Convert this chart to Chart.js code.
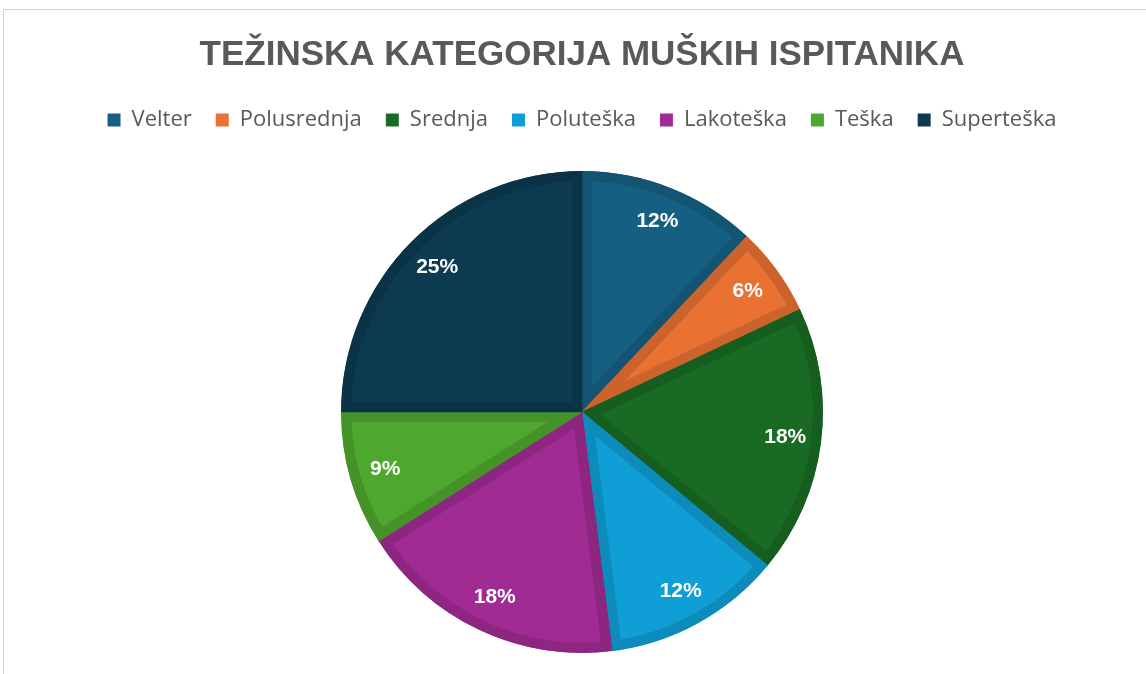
<!DOCTYPE html>
<html>
<head>
<meta charset="utf-8">
<script src="https://cdn.jsdelivr.net/npm/chart.js@4.4.1/dist/chart.umd.min.js"></script>
<style>
  html, body { margin: 0; padding: 0; background: #fff; overflow: hidden; }
  #wrap {
    position: absolute; left: 3px; top: 9px;
    width: 1156px; height: 685px;
    border-top: 1px solid #d4d4d4; border-left: 1px solid #d4d4d4;
  }
</style>
</head>
<body>
<div id="wrap"><canvas id="pieChart"></canvas></div>
<script>
// kategorije i udjeli (%)
const categories = ["Velter", "Polusrednja", "Srednja", "Poluteška", "Lakoteška", "Teška", "Superteška"];
const shares = [12, 6, 18, 12, 18, 9, 25];
const colors = ["#156082", "#E97132", "#196B24", "#0F9ED5", "#A02B93", "#4EA72E", "#0C3A4F"];

function darker(hex, f) {
  const n = parseInt(hex.slice(1), 16);
  const r = Math.round(((n >> 16) & 255) * f);
  const g = Math.round(((n >> 8) & 255) * f);
  const b = Math.round((n & 255) * f);
  return "rgb(" + r + "," + g + "," + b + ")";
}

const pieLabels = {
  id: "pieLabels",
  afterDatasetsDraw(chart) {
    const ctx = chart.ctx;
    const meta = chart.getDatasetMeta(0);
    const data = chart.data.datasets[0].data;
    const total = data.reduce((a, b) => a + b, 0);
    ctx.save();
    ctx.fillStyle = "#ffffff";
    ctx.font = "bold 21px 'Liberation Sans', Arial, sans-serif";
    ctx.textAlign = "center";
    ctx.textBaseline = "middle";
    meta.data.forEach((arc, i) => {
      const p = arc.getProps(["x", "y", "startAngle", "endAngle", "outerRadius"], true);
      const mid = (p.startAngle + p.endAngle) / 2;
      const r = p.outerRadius * 0.85;
      const pct = Math.round(data[i] / total * 100) + "%";
      ctx.fillText(pct, p.x + Math.cos(mid) * r, p.y + Math.sin(mid) * r);
    });
    ctx.restore();
  }
};

var ctxP = document.getElementById("pieChart");
var myPie = new Chart(ctxP, {
  type: "pie",
  data: {
    labels: categories,
    datasets: [{
      data: shares,
      backgroundColor: colors,
      borderColor: colors.map(c => darker(c, 0.88)),
      borderWidth: 10,
      borderAlign: "inner",
      borderJoinStyle: "miter"
    }]
  },
  options: {
    responsive: true,
    maintainAspectRatio: false,
    animation: false,
    events: [],
    radius: 241,
    layout: { padding: { bottom: 12 } },
    plugins: {
      title: {
        display: true,
        text: "TEŽINSKA KATEGORIJA MUŠKIH ISPITANIKA",
        color: "#595959",
        font: { family: "'Liberation Sans', Arial, sans-serif", size: 35, weight: "bold" },
        padding: { top: 24, bottom: 9 }
      },
      legend: {
        position: "top",
        labels: {
          color: "#595959",
          font: { family: "'Open Sans', sans-serif", size: 22 },
          boxWidth: 13,
          boxHeight: 13,
          padding: 24,
          generateLabels(chart) {
            return chart.data.labels.map((l, i) => ({
              text: l,
              fillStyle: colors[i],
              strokeStyle: colors[i],
              lineWidth: 0,
              fontColor: "#595959",
              index: i
            }));
          }
        }
      },
      tooltip: { enabled: false }
    }
  },
  plugins: [pieLabels]
});
</script>
</body>
</html>
